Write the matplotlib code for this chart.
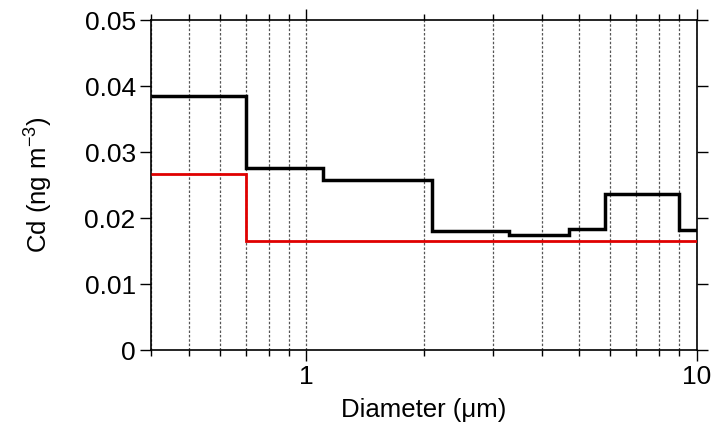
import numpy as np
import matplotlib.pyplot as plt
from matplotlib.ticker import LogLocator, FixedLocator, NullFormatter

plt.rcParams['font.family'] = ['Liberation Sans', 'DejaVu Sans']
plt.rcParams['mathtext.fontset'] = 'custom'
plt.rcParams['mathtext.rm'] = 'Liberation Sans'

# bin edges (um) and concentrations (ng m-3)
black_edges = [0.4, 0.7, 1.1, 2.1, 3.3, 4.7, 5.8, 9.0, 10.0]
black_vals = [0.0385, 0.0276, 0.0257, 0.0181, 0.0174, 0.0184, 0.0237, 0.0182]
red_edges = [0.4, 0.7, 10.0]
red_vals = [0.0267, 0.0165]

yticks = [0, 0.01, 0.02, 0.03, 0.04, 0.05]
ytick_labels = ['0', '0.01', '0.02', '0.03', '0.04', '0.05']

fig = plt.figure(figsize=(7.12, 4.32), dpi=100)
ax = fig.add_axes([151/712, 82/432, 546/712, 330/432])

ax.stairs(red_vals, red_edges, color='#e00000', lw=2.0, baseline=None, zorder=3)
ax.stairs(black_vals, black_edges, color='black', lw=2.5, baseline=None, zorder=4)

ax.set_xscale('log')
ax.set_xlim(0.4, 10)
ax.set_ylim(0, 0.05)
ax.xaxis.set_major_locator(FixedLocator([1, 10]))
ax.xaxis.set_major_formatter(plt.FixedFormatter(['1', '10']))
ax.xaxis.set_minor_locator(LogLocator(base=10, subs=np.arange(2, 10)))
ax.xaxis.set_minor_formatter(NullFormatter())
ax.set_yticks(yticks)
ax.set_yticklabels(ytick_labels)

ax.grid(True, which='both', axis='x', color='#555555', ls=(0, (2, 1.5)), lw=0.9)
ax.tick_params(which='both', direction='out', top=True, right=True,
               labelsize=19, width=1.0, color='black')
ax.tick_params(which='major', length=8, pad=3)
ax.tick_params(which='minor', length=4)
for s in ax.spines.values():
    s.set_linewidth(1.2)

ax.set_xlabel('Diameter (\u03bcm)', fontsize=18.5, labelpad=6)
ax.set_ylabel('Cd (ng m$^{\\mathrm{-3}}$)', fontsize=18.5, labelpad=22)

fig.savefig('out.png', dpi=100)
